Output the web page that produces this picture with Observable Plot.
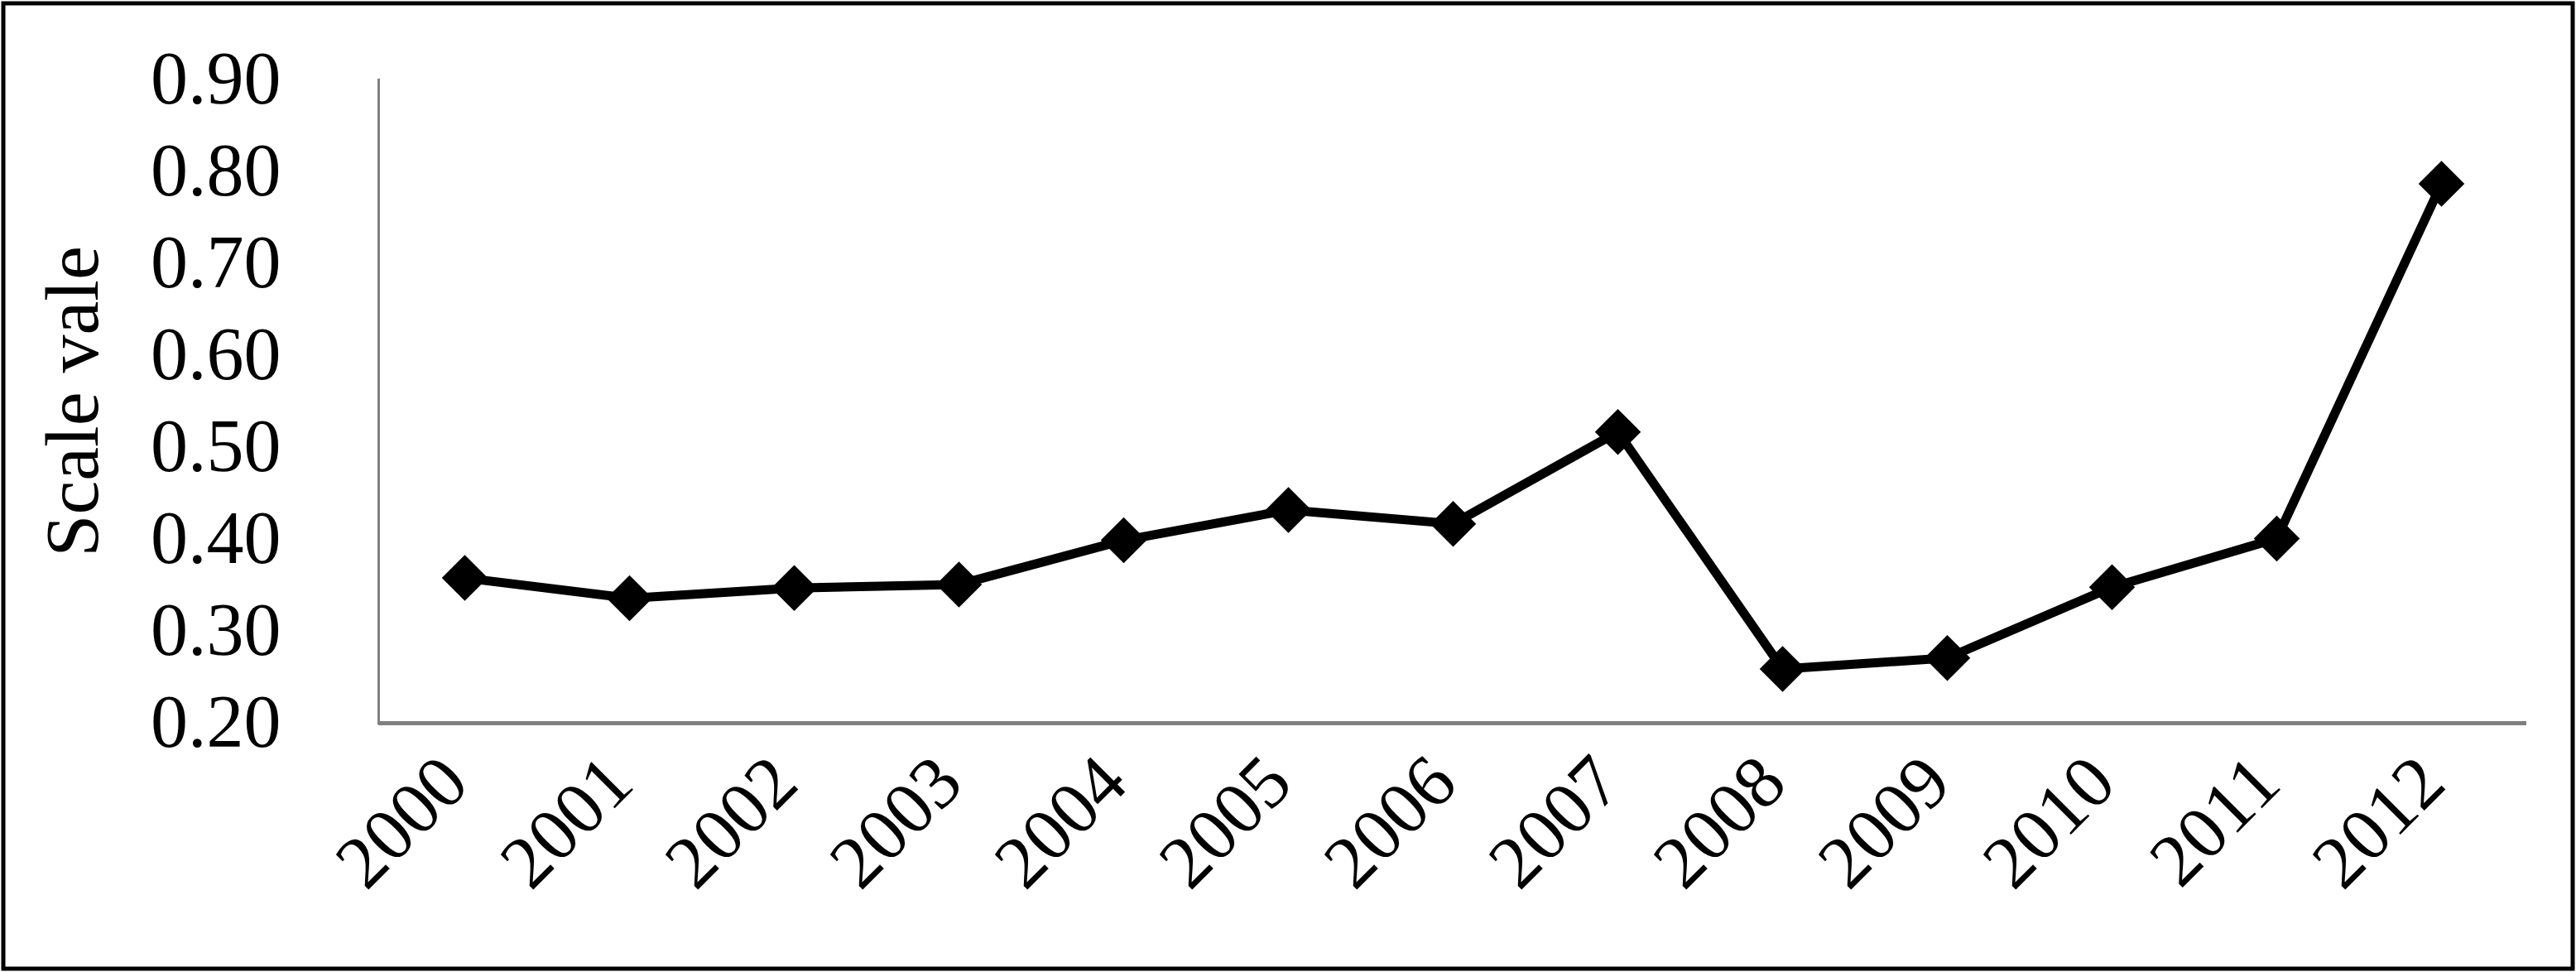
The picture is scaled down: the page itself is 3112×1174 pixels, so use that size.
<!DOCTYPE html>
<html>
<head>
<meta charset="utf-8">
<script src="https://cdn.jsdelivr.net/npm/d3@7"></script>
<script src="https://cdn.jsdelivr.net/npm/@observablehq/plot@0.6"></script>
<style>
  html, body { margin: 0; padding: 0; background: #fff; }
</style>
</head>
<body>
<div id="chart"></div>
<script>
const years = ["2000","2001","2002","2003","2004","2005","2006","2007","2008","2009","2010","2011","2012"];
const scaleValues = [0.358, 0.336, 0.347, 0.351, 0.399, 0.432, 0.417, 0.517, 0.259, 0.271, 0.348, 0.401, 0.787];
const yTicks = [0.2, 0.3, 0.4, 0.5, 0.6, 0.7, 0.8, 0.9];
const yTitle = "Scale vale";

const data = years.map((year, i) => ({year, value: scaleValues[i]}));

const W = 3112, H = 1174;
const plot = Plot.plot({
  width: W,
  height: H,
  marginLeft: 457,
  marginRight: 60,
  marginTop: 96,
  marginBottom: 301,
  style: {
    fontFamily: "'Liberation Serif', 'Times New Roman', serif",
    fontSize: "90px",
    color: "black",
    background: "white"
  },
  x: {type: "point", domain: years, padding: 0.5},
  y: {domain: [0.2, 0.9]},
  marks: [
    Plot.frame({anchor: "left", stroke: "#808080", strokeWidth: 3}),
    Plot.ruleY([0.2], {stroke: "#808080", strokeWidth: 5}),
    Plot.axisY({ticks: yTicks, tickFormat: d3.format(".2f"), tickSize: 0, tickPadding: 118, label: null, fontSize: 90}),
    Plot.axisX({tickSize: 0, tickRotate: -45, tickPadding: 56, dx: -12, label: null, fontSize: 90}),
    Plot.text([yTitle], {frameAnchor: "left", textAnchor: "middle", dx: -369, rotate: -90, fontSize: 92}),
    Plot.line(data, {x: "year", y: "value", stroke: "black", strokeWidth: 11}),
    Plot.dot(data, {x: "year", y: "value", symbol: "diamond2", r: 25, fill: "black", stroke: "none"})
  ]
});

d3.select(plot).append("rect")
  .attr("x", 4).attr("y", 4)
  .attr("width", W - 8).attr("height", H - 8)
  .attr("fill", "none").attr("stroke", "black").attr("stroke-width", 5);

document.getElementById("chart").appendChild(plot);
</script>
</body>
</html>
